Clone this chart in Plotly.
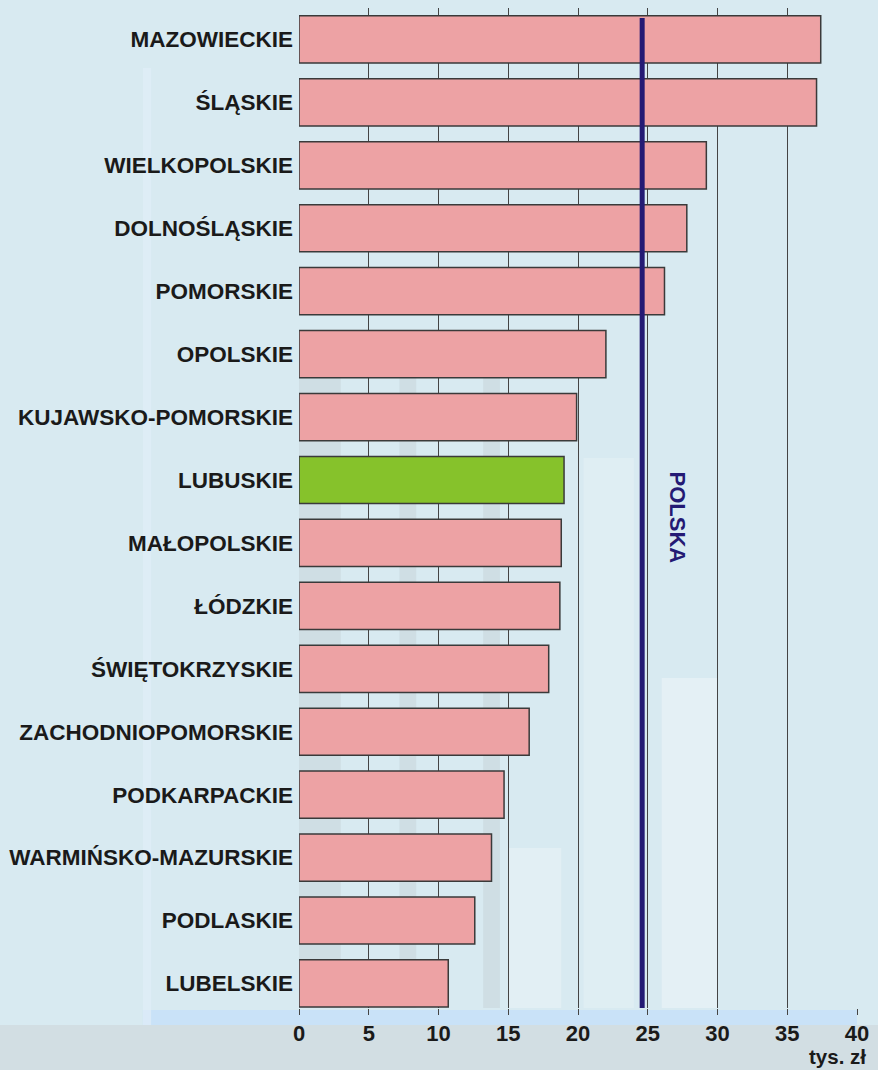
import plotly.graph_objects as go

regions = ["MAZOWIECKIE", "ŚLĄSKIE", "WIELKOPOLSKIE", "DOLNOŚLĄSKIE", "POMORSKIE",
           "OPOLSKIE", "KUJAWSKO-POMORSKIE", "LUBUSKIE", "MAŁOPOLSKIE", "ŁÓDZKIE",
           "ŚWIĘTOKRZYSKIE", "ZACHODNIOPOMORSKIE", "PODKARPACKIE",
           "WARMIŃSKO-MAZURSKIE", "PODLASKIE", "LUBELSKIE"]
values = [37.4, 37.1, 29.2, 27.8, 26.2, 22.0, 19.9, 19.0, 18.8, 18.7,
          17.9, 16.5, 14.7, 13.8, 12.6, 10.7]
highlight = "LUBUSKIE"
polska = 24.6
polska_label = "POLSKA"
x_ticks = [0, 5, 10, 15, 20, 25, 30, 35, 40]
unit_label = "tys. zł"

colors = ["#86c22b" if r == highlight else "#eda2a4" for r in regions]
FONT = "Liberation Sans, Arial, sans-serif"

fig = go.Figure()
fig.add_trace(go.Bar(
    x=values, y=regions, orientation="h",
    marker=dict(color=colors, line=dict(color="#3a3a3a", width=1.5)),
    hoverinfo="x+y",
))

# decorative background
deco = [
    dict(x0=0.0, x1=0.075, y0=0.0, y1=0.63, c="rgba(150,150,150,0.13)"),
    dict(x0=0.18, x1=0.21, y0=0.0, y1=0.63, c="rgba(150,150,150,0.13)"),
    dict(x0=0.33, x1=0.36, y0=0.0, y1=0.63, c="rgba(150,150,150,0.13)"),
    dict(x0=0.375, x1=0.47, y0=0.0, y1=0.16, c="rgba(255,255,255,0.25)"),
    dict(x0=0.51, x1=0.6, y0=0.0, y1=0.55, c="rgba(255,255,255,0.2)"),
    dict(x0=0.65, x1=0.75, y0=0.0, y1=0.33, c="rgba(255,255,255,0.3)"),
]
shapes = [
    dict(type="rect", xref="paper", yref="paper", x0=-0.6, x1=1.1,
         y0=-0.07, y1=-0.017, fillcolor="rgba(205,212,215,0.55)",
         line=dict(width=0), layer="below"),
]
for d in deco:
    shapes.append(dict(type="rect", xref="x domain", yref="y domain",
                       x0=d["x0"], x1=d["x1"], y0=d["y0"], y1=d["y1"],
                       fillcolor=d["c"], line=dict(width=0), layer="below"))
shapes.append(dict(type="rect", xref="paper", yref="paper", x0=-0.28, x1=1.0,
                   y0=-0.017, y1=-0.002, fillcolor="rgba(200,225,248,0.95)",
                   line=dict(width=0), layer="below"))
shapes.append(dict(type="rect", xref="paper", yref="paper", x0=-0.28, x1=-0.265,
                   y0=-0.017, y1=0.94, fillcolor="rgba(225,238,248,0.7)",
                   line=dict(width=0), layer="below"))
shapes.append(dict(type="line", xref="x", yref="y domain", x0=polska, x1=polska,
                   y0=0, y1=0.99, line=dict(color="#241a74", width=5)))

fig.update_layout(
    width=878, height=1070,
    margin=dict(l=299, r=21, t=8, b=62),
    paper_bgcolor="#d8eaf1",
    plot_bgcolor="rgba(0,0,0,0)",
    bargap=0.25,
    showlegend=False,
    shapes=shapes,
    font=dict(family=FONT, color="#1a1a1a"),
    xaxis=dict(range=[0, 40], tickvals=x_ticks, showgrid=True,
               gridcolor="#444444", gridwidth=1, zeroline=False,
               ticks="outside", ticklen=6, tickcolor="#444444",
               tickfont=dict(size=22, family=FONT, color="#1a1a1a", weight="bold"),
               showline=False, fixedrange=True),
    yaxis=dict(categoryorder="array", categoryarray=regions[::-1],
               range=[-0.39, 15.5],
               tickfont=dict(size=22.5, family=FONT, color="#1a1a1a", weight="bold"),
               ticks="", ticklabelstandoff=5, showgrid=False, showline=False),
    annotations=[
        dict(text=polska_label, x=polska + 2.6, xref="x",
             y=0.49, yref="y domain", textangle=90, showarrow=False,
             font=dict(size=22, color="#241a74", family=FONT, weight="bold")),
        dict(text=unit_label, x=1.0205, xref="paper",
             y=-0.048, yref="paper", xanchor="right", yanchor="middle", showarrow=False,
             font=dict(size=20.5, color="#1a1a1a", family=FONT, weight="bold")),
    ],
)

fig.write_html("out.html", config={"displayModeBar": False},
               post_script="document.body.style.margin='0';document.body.style.background='#d8eaf1';")
